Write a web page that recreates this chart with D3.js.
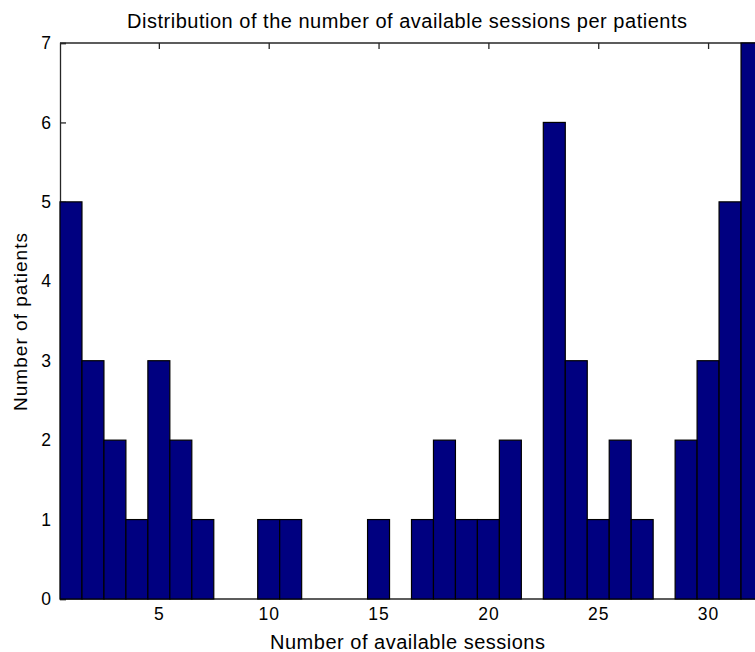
<!DOCTYPE html>
<html>
<head>
<meta charset="utf-8">
<script src="https://cdn.jsdelivr.net/npm/d3@7"></script>
<style>
  body { margin: 0; background: #fff; }
  text { font-family: "Liberation Sans", Arial, sans-serif; fill: #000; }
</style>
</head>
<body>
<div id="chart"></div>
<script>
// sessions 1..32 and how many patients had that many
let sessions = d3.range(1, 33);
let patients = [5, 3, 2, 1, 3, 2, 1, 0, 0, 1, 1, 0, 0, 0, 1, 0,
                1, 2, 1, 1, 2, 0, 6, 3, 1, 2, 1, 0, 2, 3, 5, 7];
let xTicks = [5, 10, 15, 20, 25, 30];
let yTicks = [0, 1, 2, 3, 4, 5, 6, 7];

let width = 755, height = 652;
let margin = { top: 43, right: -8, bottom: 53, left: 60 };

let svg = d3.select("#chart")
    .append("svg")
    .attr("width", width)
    .attr("height", height);

let x = d3.scaleLinear()
    .domain([0.5, 32.5])
    .range([margin.left, width - margin.right]);

let y = d3.scaleLinear()
    .domain([0, 7])
    .range([height - margin.bottom, margin.top]);

// axes, matlab style: ticks point inward
let axisColor = "#262626";

let bottomAxis = svg.append("g")
    .attr("transform", "translate(0," + y(0) + ")")
    .call(d3.axisBottom(x).tickValues(xTicks).tickSize(-6).tickPadding(9).tickFormat(d3.format("d")));

let topAxis = svg.append("g")
    .attr("transform", "translate(0," + y(7) + ")")
    .call(d3.axisTop(x).tickValues(xTicks).tickSize(-6).tickFormat(""));

let leftAxis = svg.append("g")
    .attr("transform", "translate(" + x(0.5) + ",0)")
    .call(d3.axisLeft(y).tickValues(yTicks).tickSize(-6).tickPadding(8).tickFormat(d3.format("d")));

[bottomAxis, topAxis, leftAxis].forEach(function(g) {
    g.select(".domain").attr("stroke", axisColor).attr("stroke-width", 1.3);
    g.selectAll(".tick line").attr("stroke", axisColor).attr("stroke-width", 1.3);
    g.selectAll("text")
        .style("font-size", "17.5px")
        .style("letter-spacing", "1px")
        .style("font-family", "Liberation Sans, Arial, sans-serif")
        .attr("fill", "#000");
});
bottomAxis.select(".domain").attr("d", "M" + x(0.5) + ",0H" + width);
topAxis.select(".domain").attr("d", "M" + x(0.5) + ",0H" + width);

// bars, drawn over the bottom ticks
svg.append("g").selectAll(".bar")
    .data(sessions.map(function(s, i) { return { s: s, n: patients[i] }; }).filter(function(d) { return d.n > 0; }))
    .enter().append("rect")
    .attr("class", "bar")
    .attr("x", function(d) { return x(d.s - 0.5); })
    .attr("width", function(d) { return x(d.s + 0.5) - x(d.s - 0.5); })
    .attr("y", function(d) { return y(d.n); })
    .attr("height", function(d) { return y(0) - y(d.n); })
    .style("fill", "#000080")
    .style("stroke", "#000")
    .style("stroke-width", 1.2);

// labels, stretched to the widths of the original bitmap font
svg.append("text")
    .attr("x", 407)
    .attr("y", 28)
    .attr("text-anchor", "middle")
    .attr("textLength", 560)
    .attr("lengthAdjust", "spacing")
    .style("font-size", "20px")
    .text("Distribution of the number of available sessions per patients");

svg.append("text")
    .attr("x", 407.5)
    .attr("y", 649)
    .attr("text-anchor", "middle")
    .attr("textLength", 275)
    .attr("lengthAdjust", "spacing")
    .style("font-size", "20px")
    .text("Number of available sessions");

svg.append("text")
    .attr("transform", "translate(26.5,322) rotate(-90)")
    .attr("text-anchor", "middle")
    .attr("textLength", 178)
    .attr("lengthAdjust", "spacing")
    .style("font-size", "19px")
    .text("Number of patients");
</script>
</body>
</html>
